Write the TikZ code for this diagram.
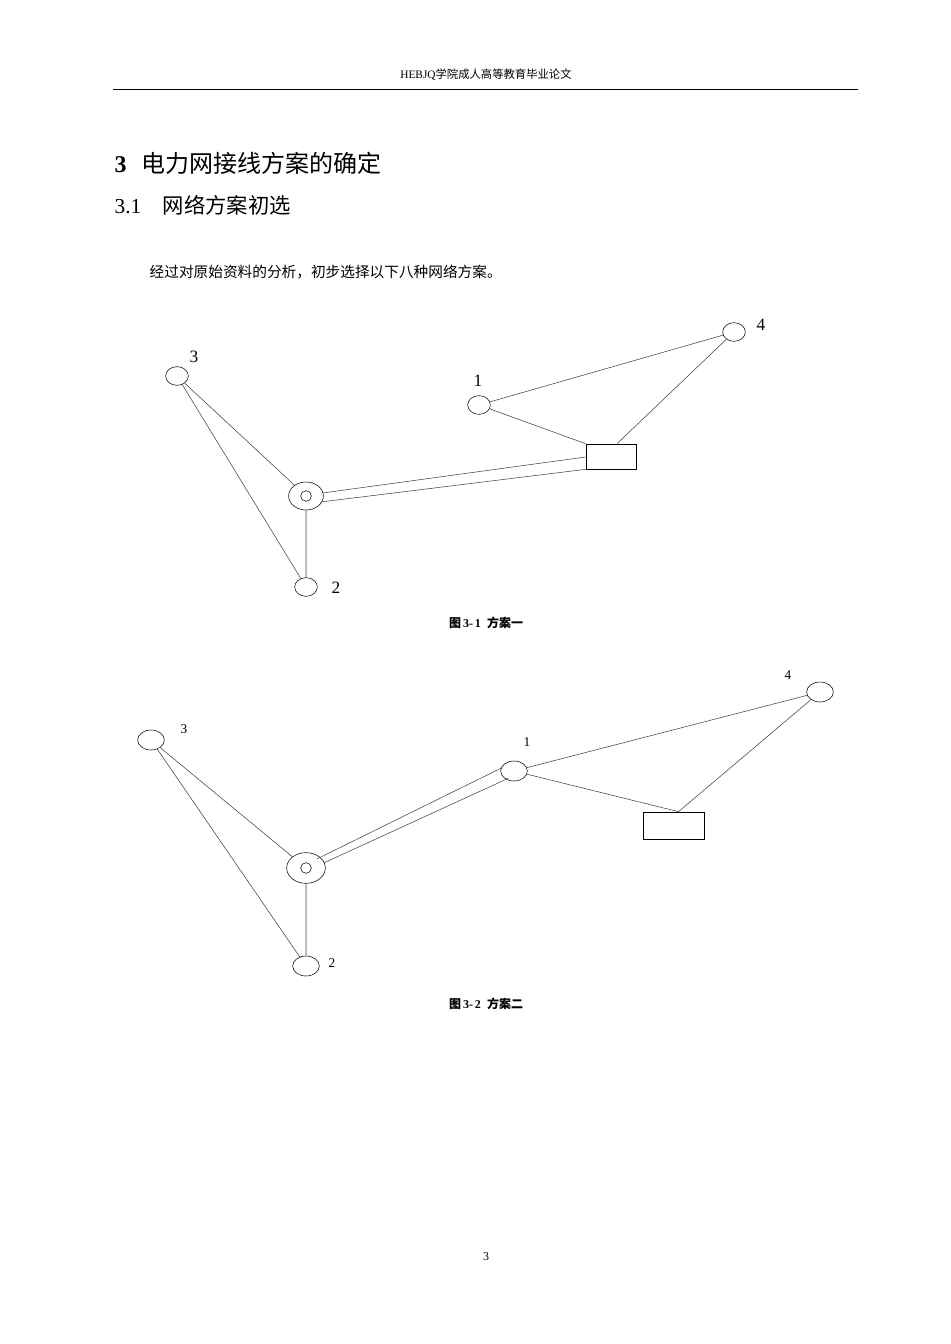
\documentclass[tikz,border=0pt]{standalone}
\usepackage{fontspec}
\setmainfont{Liberation Serif}
\newfontfamily\cjk{Noto Sans CJK SC}
\usetikzlibrary{positioning,calc,shapes.geometric}
\begin{document}
\begin{tikzpicture}[x=0.75pt,y=-0.75pt,
  bus/.style={draw,ellipse,inner sep=0pt,minimum width=17,minimum height=14,line width=0.4pt},
  hub/.style={draw,circle,inner sep=0pt,minimum size=8,line width=0.4pt},
  ring/.style={draw,ellipse,inner sep=0pt,minimum width=26,minimum height=21,line width=0.4pt},
  plant/.style={draw,rectangle,inner sep=0pt,line width=0.5pt},
  num/.style={font=\fontsize{13}{13}\selectfont},
  wire/.style={line width=0.4pt,draw=black!75}]
\useasboundingbox (0,0) rectangle (950,1344);

%--intestazione della pagina
\node (head) at (486,75) {\fontsize{8.5}{10}\selectfont HEBJQ\cjk 学院成人高等教育毕业论文};
\draw[line width=0.5pt] (113,89) -- (858,89);
\node[anchor=west] (chap) at (110,163) {\fontsize{18}{20}\selectfont\textbf{3}\hspace{0.6em}\cjk 电力网接线方案的确定};
\node[anchor=west] (sec) at (110,205) {\fontsize{16}{18}\selectfont 3.1\hspace{1em}\cjk 网络方案初选};
\node[anchor=west] (para) at (145,272) {\fontsize{11}{13}\selectfont\cjk 经过对原始资料的分析，初步选择以下八种网络方案。};

%--figura relativa al primo schema
\node[ring] (a0) at (306,496) {};
\node[hub] at (a0) {};
\node[bus] (a1) at (479,405) {};
\node[bus] (a2) at (306,587) {};
\node[bus] (a3) at (177,376) {};
\node[bus] (a4) at (734,332) {};
\node[plant,minimum width=37.5,minimum height=18.75] (ap) at (611,456.5) {};
\node[num] at (194,357) {3};
\node[num] at (478,381) {1};
\node[num] at (761,325) {4};
\node[num] at (336,588) {2};
\draw[wire] (a3) -- (a0) (a3) -- (a2) (a0) -- (a2) (a1) -- (a4);
\draw[wire] (a1) -- (ap.north west) (a4) -- ($(ap.north)+(6,0)$);
\draw[wire] ($(a0.east)+(-1,-3)$) -- ($(ap.west)+(0,0.5)$);
\draw[wire] ($(a0.east)+(-3,6)$) -- (ap.south west);
\node[font=\fontsize{9}{10}\selectfont\bfseries] (cap1) at (486,623) {{\cjk 图}\,3-\,1\ \ {\cjk 方案一}};

%--figura relativa al secondo schema
\node[ring,minimum width=29,minimum height=23] (b0) at (306,868) {};
\node[hub,minimum size=8] at (b0) {};
\node[bus,minimum width=20,minimum height=15] (b1) at (514,771) {};
\node[bus,minimum width=20,minimum height=15] (b2) at (306,966) {};
\node[bus,minimum width=20,minimum height=15] (b3) at (151,740) {};
\node[bus,minimum width=20,minimum height=15] (b4) at (820,692) {};
\node[plant,minimum width=45.75,minimum height=20.25] (bp) at (673.5,825.5) {};
\node[num,font=\fontsize{10}{10}\selectfont] at (184,729) {3};
\node[num,font=\fontsize{10}{10}\selectfont] at (527,742) {1};
\node[num,font=\fontsize{10}{10}\selectfont] at (788,675) {4};
\node[num,font=\fontsize{10}{10}\selectfont] at (332,963) {2};
\draw[wire] (b3) -- (b0) (b3) -- (b2) (b0) -- (b2) (b1) -- (b4);
\draw[wire] (b1) -- ($(bp.north)+(5,0)$) (b4) -- ($(bp.north)+(5,0)$);
\draw[wire] ($(b0.north east)+(-3,2)$) -- ($(b1.west)+(1,-3)$);
\draw[wire] ($(b0.east)+(-2,-5)$) -- ($(b1.south west)+(4,0)$);
\node[font=\fontsize{9}{10}\selectfont\bfseries] (cap2) at (486,1004) {{\cjk 图}\,3-\,2\ \ {\cjk 方案二}};

\node[font=\fontsize{9}{10}\selectfont] (page) at (486,1257) {3};
\end{tikzpicture}
\end{document}
